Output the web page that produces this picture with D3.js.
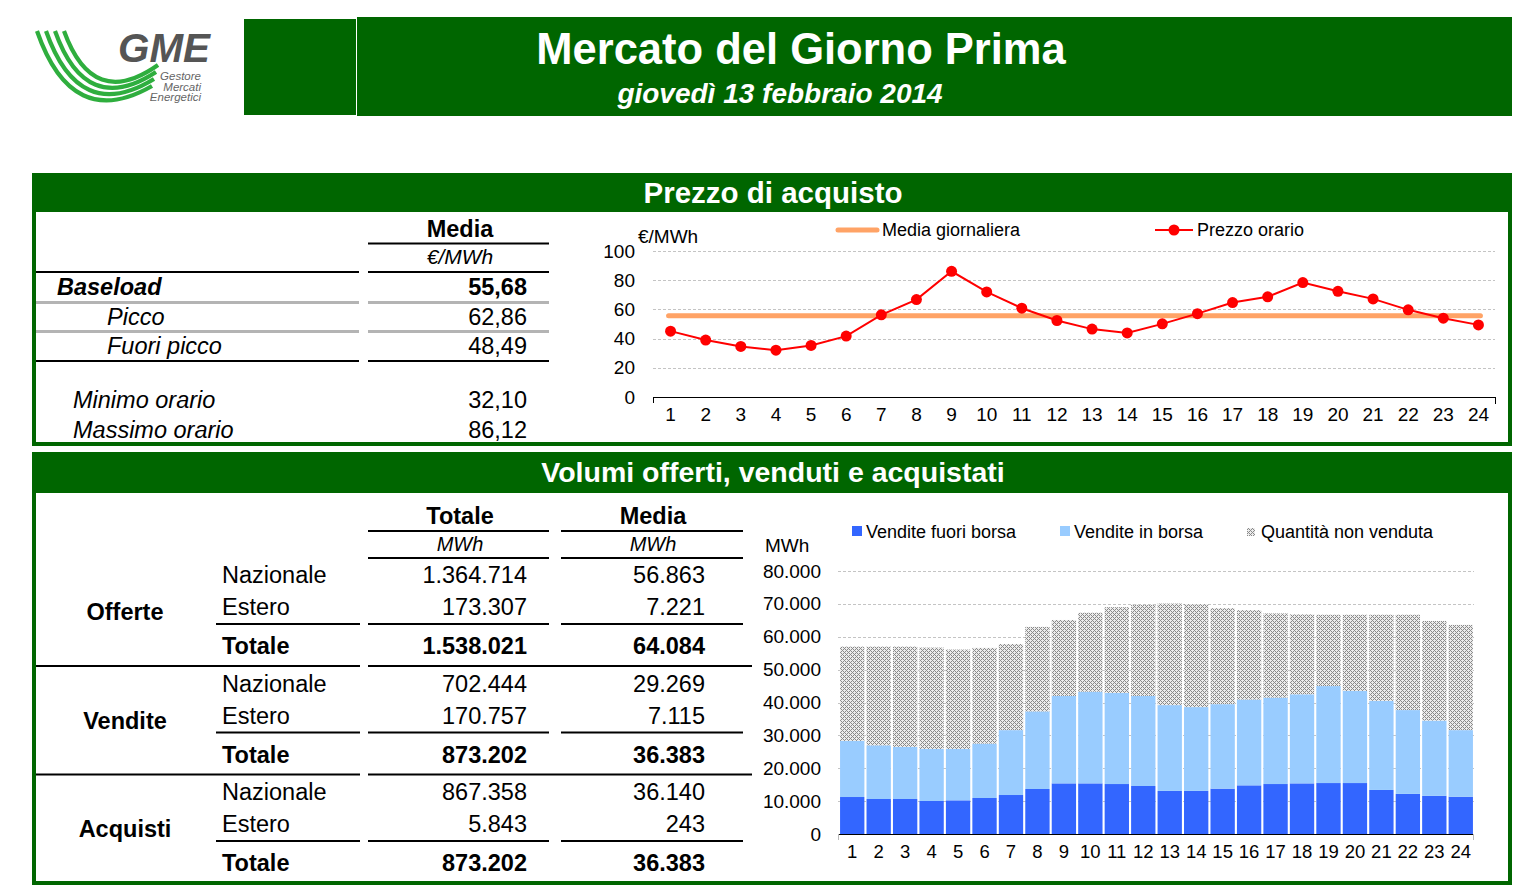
<!DOCTYPE html>
<html><head><meta charset="utf-8">
<script src="https://cdn.jsdelivr.net/npm/d3@7"></script>
<style>
body{margin:0;background:#fff;}
svg{display:block;}
text{font-family:"Liberation Sans",Arial,Helvetica,sans-serif;}
</style></head>
<body><svg id="c" width="1536" height="891"></svg>
<script>
// ---------------- DATA ----------------
const hours = ["1","2","3","4","5","6","7","8","9","10","11","12","13","14","15","16","17","18","19","20","21","22","23","24"];
const prezzoOrario = [45.1, 39.0, 34.6, 32.10, 35.3, 41.7, 56.3, 66.7, 86.12, 72.0, 60.8, 52.4, 46.5, 43.9, 50.1, 57.1, 64.7, 68.6, 78.4, 72.4, 67.2, 59.7, 54.0, 49.4];
const mediaGiornaliera = 55.68;
const priceTicks = [0, 20, 40, 60, 80, 100];

const venditeFuoriBorsa = [11250, 10650, 10650, 10040, 10240, 10950, 11860, 13690, 15400, 15400, 15200, 14600, 13100, 13100, 13800, 14800, 15200, 15400, 15500, 15500, 13400, 12200, 11600, 11350];
const venditeInBorsa = [17050, 16320, 15850, 15820, 15620, 16550, 19740, 23610, 26600, 27900, 27700, 27400, 26100, 25500, 25700, 26100, 26300, 27100, 29500, 28000, 27100, 25500, 22900, 20250];
const quantitaNonVenduta = [28700, 30030, 30500, 30840, 30240, 29100, 26200, 25700, 23100, 24000, 26100, 27700, 30900, 31300, 29200, 27200, 25600, 24300, 21700, 23200, 26200, 29000, 30300, 32000];
const volumeTicks = [0, 10000, 20000, 30000, 40000, 50000, 60000, 70000, 80000];
const volumeSeries = ["Vendite fuori borsa", "Vendite in borsa", "Quantità non venduta"];

const priceLabels = ["Baseload", "Picco", "Fuori picco", "Minimo orario", "Massimo orario"];
const priceValues = ["55,68", "62,86", "48,49", "32,10", "86,12"];

const volGroups = ["Offerte", "Vendite", "Acquisti"];
const volSubRows = ["Nazionale", "Estero", "Totale"];
const volTotale = [["1.364.714", "173.307", "1.538.021"], ["702.444", "170.757", "873.202"], ["867.358", "5.843", "873.202"]];
const volMedia = [["56.863", "7.221", "64.084"], ["29.269", "7.115", "36.383"], ["36.140", "243", "36.383"]];

// ---------------- DRAWING ----------------
const GREEN = "#006600";
const svg = d3.select("#c");
const defs = svg.append("defs");
const pat = defs.append("pattern").attr("id","hatch").attr("patternUnits","userSpaceOnUse")
  .attr("width",4).attr("height",4);
pat.append("rect").attr("width",4).attr("height",4).attr("fill","#ececec");
[[0,0],[1,1],[2,2],[3,3],[1,3],[3,1]].forEach(p=>pat.append("rect").attr("x",p[0]).attr("y",p[1])
  .attr("width",1).attr("height",1).attr("fill","#8a8a8a"));

// logo
const logo = svg.append("g");
for (let i=0;i<4;i++){
  logo.append("path")
    .attr("d", `M${37+9*i},31 Q${72+7*i},${132-7*i} ${152+2*i},${86-7*i}`)
    .attr("fill","none").attr("stroke","#2fae3e").attr("stroke-width",4.2);
}
logo.append("text").attr("x",118).attr("y",62).attr("font-size",40).attr("font-weight","bold")
  .attr("font-style","italic").attr("fill","#555").attr("textLength",92).attr("lengthAdjust","spacingAndGlyphs").text("GME");
["Gestore","Mercati","Energetici"].forEach((t,i)=>logo.append("text").attr("x",201).attr("y",80+10.5*i)
  .attr("text-anchor","end").attr("font-size",11.5).attr("font-style","italic").attr("fill","#666").text(t));

// header boxes
svg.append("rect").attr("x",244).attr("y",19).attr("width",112).attr("height",96).attr("fill",GREEN);
svg.append("rect").attr("x",357).attr("y",17).attr("width",1155).attr("height",99).attr("fill",GREEN);
svg.append("text").attr("x",801).attr("y",64).attr("text-anchor","middle").attr("font-size",43.5)
  .attr("font-weight","bold").attr("fill","#fff").text("Mercato del Giorno Prima");
svg.append("text").attr("x",780).attr("y",103).attr("text-anchor","middle").attr("font-size",28)
  .attr("font-weight","bold").attr("font-style","italic").attr("fill","#fff").text("giovedì 13 febbraio 2014");

// section frames
function section(y0, y1, barH, title, ty, size){
  svg.append("rect").attr("x",32).attr("y",y0).attr("width",1480).attr("height",barH).attr("fill",GREEN);
  svg.append("rect").attr("x",34).attr("y",y0+2).attr("width",1476).attr("height",y1-y0-4)
    .attr("fill","none").attr("stroke",GREEN).attr("stroke-width",4);
  svg.append("text").attr("x",773).attr("y",ty).attr("text-anchor","middle").attr("font-size",size)
    .attr("font-weight","bold").attr("fill","#fff").text(title);
}
section(173, 446, 39, "Prezzo di acquisto", 203, 29.5);
section(452, 885, 41, "Volumi offerti, venduti e acquistati", 482, 28.5);

function hline(x0,x1,y,color,w){
  svg.append("line").attr("x1",x0).attr("x2",x1).attr("y1",y).attr("y2",y)
    .attr("stroke",color||"#000").attr("stroke-width",w||2);
}
function txt(x,y,s,opt){
  opt=opt||{};
  return svg.append("text").attr("x",x).attr("y",y).attr("font-size",opt.size||23.5)
    .attr("font-weight",opt.bold?"bold":"normal").attr("font-style",opt.italic?"italic":"normal")
    .attr("text-anchor",opt.anchor||"start").attr("fill","#000").text(s);
}

// ---- price table ----
txt(460,237,"Media",{bold:true,anchor:"middle"});
hline(368,549,243.5);
txt(460,264,"€/MWh",{italic:true,anchor:"middle",size:21});
hline(36,359,272); hline(368,549,272);
const pRowY = [295,325,354,408,438];
const pRowX = [57,107,107,73,73];
priceLabels.forEach((l,i)=>{
  txt(pRowX[i],pRowY[i],l,{italic:true,bold:i===0});
  txt(527,pRowY[i],priceValues[i],{bold:i===0,anchor:"end"});
});
hline(36,359,302.5,"#b4b4b4",3); hline(368,549,302.5,"#b4b4b4",3);
hline(36,359,331.5,"#b4b4b4",3); hline(368,549,331.5,"#b4b4b4",3);
hline(36,359,361); hline(368,549,361);

// ---- volume table ----
txt(460,524,"Totale",{bold:true,anchor:"middle"});
txt(653,524,"Media",{bold:true,anchor:"middle"});
hline(368,549,531); hline(561,743,531);
txt(460,551,"MWh",{italic:true,anchor:"middle",size:20});
txt(653,551,"MWh",{italic:true,anchor:"middle",size:20});
hline(368,549,558); hline(561,743,558);
const subOff = [0,32,71];
volGroups.forEach((g,gi)=>{
  const base = 583 + gi*108.5;
  txt(125, base+37, g, {bold:true,anchor:"middle"});
  volSubRows.forEach((s,si)=>{
    const b = si===2;
    txt(222, base+subOff[si], s, {bold:b});
    txt(527, base+subOff[si], volTotale[gi][si], {bold:b,anchor:"end"});
    txt(705, base+subOff[si], volMedia[gi][si], {bold:b,anchor:"end"});
  });
  hline(216,360,base+41); hline(368,549,base+41); hline(561,743,base+41);
  if (gi<2){ hline(36,360,base+83); hline(368,752,base+83); }
});

// ---------------- PRICE CHART ----------------
const px = d3.scaleBand().domain(hours).range([653,1496]);
const py = d3.scaleLinear().domain([0,100]).range([397,251]);
const pc = svg.append("g");
pc.selectAll(".pg").data(priceTicks.filter(d=>d>0)).join("line")
  .attr("x1",653).attr("x2",1495).attr("y1",d=>Math.round(py(d))+0.5).attr("y2",d=>Math.round(py(d))+0.5)
  .attr("stroke","#c4c4c4").attr("stroke-dasharray","3,2");
const pyAxis = pc.append("g").attr("transform","translate(653,0)")
  .call(d3.axisLeft(py).tickValues(priceTicks).tickSize(0).tickPadding(18));
pyAxis.select(".domain").remove();
pyAxis.selectAll("text").attr("font-size",19).attr("font-family","Liberation Sans, Arial, sans-serif").attr("fill","#000");
const pxAxis = pc.append("g").attr("transform","translate(0,397)")
  .call(d3.axisBottom(px).tickSize(0).tickPadding(10.5));
pxAxis.select(".domain").remove();
pxAxis.selectAll("text").attr("font-size",19).attr("font-family","Liberation Sans, Arial, sans-serif").attr("fill","#000");
pc.append("line").attr("x1",653).attr("x2",1495).attr("y1",397.5).attr("y2",397.5).attr("stroke","#000");
pc.append("line").attr("x1",653.5).attr("x2",653.5).attr("y1",397).attr("y2",403).attr("stroke","#000");
pc.append("line").attr("x1",1495.5).attr("x2",1495.5).attr("y1",397).attr("y2",404).attr("stroke","#000");
txt(638,243,"€/MWh",{size:19});
const cx = h=>px(h)+px.bandwidth()/2;
pc.append("line").attr("x1",cx(hours[0])-2).attr("x2",cx(hours[23])+2)
  .attr("y1",py(mediaGiornaliera)).attr("y2",py(mediaGiornaliera))
  .attr("stroke","#ffa366").attr("stroke-width",5).attr("stroke-linecap","round");
pc.append("path").datum(prezzoOrario)
  .attr("d",d3.line().x((d,i)=>cx(hours[i])).y(d=>py(d)))
  .attr("fill","none").attr("stroke","#ff0000").attr("stroke-width",2);
pc.selectAll(".pt").data(prezzoOrario).join("circle")
  .attr("cx",(d,i)=>cx(hours[i])).attr("cy",d=>py(d)).attr("r",5.5).attr("fill","#ff0000");
// legend
pc.append("line").attr("x1",838).attr("x2",877).attr("y1",230).attr("y2",230)
  .attr("stroke","#ffa366").attr("stroke-width",5).attr("stroke-linecap","round");
txt(882,236,"Media giornaliera",{size:18});
pc.append("line").attr("x1",1155).attr("x2",1193).attr("y1",230).attr("y2",230).attr("stroke","#ff0000").attr("stroke-width",2);
pc.append("circle").attr("cx",1174).attr("cy",230).attr("r",5.5).attr("fill","#ff0000");
txt(1197,236,"Prezzo orario",{size:18});

// ---------------- VOLUME CHART ----------------
const vx = d3.scaleBand().domain(hours).range([839,1474]).paddingInner(0.08).paddingOuter(0.04);
const vy = d3.scaleLinear().domain([0,80000]).range([834,571]);
const fmt = d3.formatLocale({decimal:",",thousands:".",grouping:[3],currency:["€",""]}).format(",d");
const vc = svg.append("g");
vc.selectAll(".vg").data(volumeTicks.filter(d=>d>0)).join("line")
  .attr("x1",838).attr("x2",1474).attr("y1",d=>Math.round(vy(d))+0.5).attr("y2",d=>Math.round(vy(d))+0.5)
  .attr("stroke","#c4c4c4").attr("stroke-dasharray","3,2");
const stackData = hours.map((h,i)=>({hour:h, a:venditeFuoriBorsa[i], b:venditeInBorsa[i], c:quantitaNonVenduta[i]}));
const stacked = d3.stack().keys(["a","b","c"])(stackData);
const fills = ["#3366ff","#99ccff","url(#hatch)"];
vc.selectAll(".layer").data(stacked).join("g").attr("fill",(d,i)=>fills[i])
  .selectAll("rect").data(d=>d).join("rect")
  .attr("x",d=>vx(d.data.hour)).attr("width",vx.bandwidth())
  .attr("y",d=>vy(d[1])).attr("height",d=>vy(d[0])-vy(d[1]));
const vyAxis = vc.append("g").attr("transform","translate(838,0)")
  .call(d3.axisLeft(vy).tickValues(volumeTicks).tickSize(0).tickPadding(17).tickFormat(fmt));
vyAxis.select(".domain").remove();
vyAxis.selectAll("text").attr("font-size",19).attr("font-family","Liberation Sans, Arial, sans-serif").attr("fill","#000");
const vxAxis = vc.append("g").attr("transform","translate(0,834)")
  .call(d3.axisBottom(vx).tickSize(0).tickPadding(11));
vxAxis.select(".domain").remove();
vxAxis.selectAll("text").attr("font-size",18.5).attr("font-family","Liberation Sans, Arial, sans-serif").attr("fill","#000");
vc.append("line").attr("x1",838).attr("x2",1474).attr("y1",834.5).attr("y2",834.5).attr("stroke","#000");
vc.append("line").attr("x1",838.5).attr("x2",838.5).attr("y1",834).attr("y2",840).attr("stroke","#bbb");
vc.append("line").attr("x1",1473.5).attr("x2",1473.5).attr("y1",834).attr("y2",840).attr("stroke","#bbb");
txt(765,552,"MWh",{size:19});
// legend
const legX = [852,1060,1247], legT = [866,1074,1261];
volumeSeries.forEach((s,i)=>{
  vc.append("rect").attr("x",legX[i]).attr("y",i===2?528:526).attr("width",i===2?8:10).attr("height",i===2?8:10).attr("fill",fills[i]);
  txt(legT[i],538,s,{size:18});
});
</script>
</body></html>
